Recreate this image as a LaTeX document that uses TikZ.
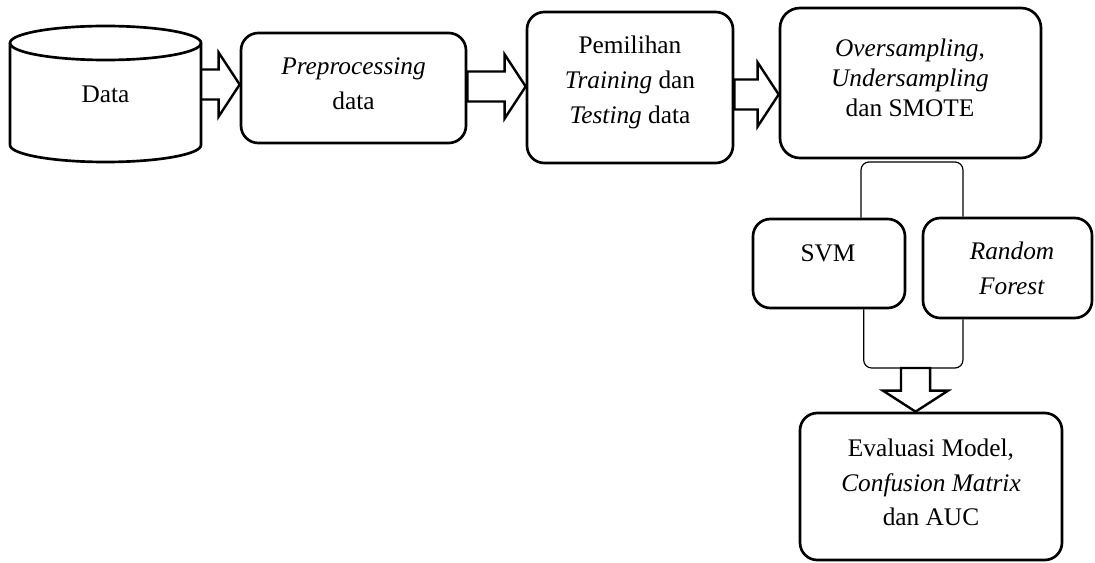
\documentclass[tikz,border=0pt]{standalone}
\usepackage{fontspec}
\setmainfont{Liberation Serif}
\usetikzlibrary{calc}

\tikzset{
  box/.style={draw, line width=2pt, rounded corners=13pt, inner sep=0pt},
  txt/.style={align=center, inner sep=0pt, font=\fontsize{19}{26}\selectfont},
  blockarr/.style={draw, line width=1.8pt, fill=white, line join=miter},
  bracket/.style={line width=0.9pt, rounded corners=6pt}
}
% block arrow pointing right, shaft from #1 to the tip at #2
\newcommand{\harrow}[2]{%
  \draw[blockarr] let \p1=(#1), \p2=(#2) in
    (\x1,\y2+11.25pt) -- (\x2-15.75pt,\y2+11.25pt) -- (\x2-15.75pt,\y2+24pt) -- (\x2,\y2)
    -- (\x2-15.75pt,\y2-24pt) -- (\x2-15.75pt,\y2-11.25pt) -- (\x1,\y2-11.25pt) -- cycle;}
% block arrow pointing down
\newcommand{\varrow}[2]{%
  \draw[blockarr] let \p1=(#1), \p2=(#2) in
    (\x2-10.9pt,\y1) -- (\x2-10.9pt,\y2+15.75pt) -- (\x2-24.4pt,\y2+15.75pt) -- (\x2,\y2)
    -- (\x2+24.4pt,\y2+15.75pt) -- (\x2+10.9pt,\y2+15.75pt) -- (\x2+10.9pt,\y1) -- cycle;}

\begin{document}
\begin{tikzpicture}[x=0.75pt,y=-0.75pt]
\useasboundingbox (0,0) rectangle (1095,563);

% data cylinder
\draw[line width=2pt] (10,43) -- (10,145) arc[start angle=180, end angle=360, x radius=71.625pt, y radius=12.75pt] -- (201,43);
\draw[line width=2pt] (105.5,43) ellipse [x radius=71.625pt, y radius=12.75pt];
\node[txt, minimum width=143.25pt, minimum height=102pt] (data) at (105.5,94) {Data};

% boxes
\node[box, minimum width=168.75pt, minimum height=82.5pt] (prep) at (353.5,88) {};
\node[box, minimum width=154.5pt, minimum height=113.25pt] (pilih) at (630,87.5) {};
\node[box, rounded corners=15pt, minimum width=195.75pt, minimum height=112.5pt] (over) at (910.5,83) {};
\node[box, minimum width=114pt, minimum height=66.75pt] (svm) at (829,263.5) {};
\node[box, minimum width=126.75pt, minimum height=75pt] (rf) at (1007.5,268) {};
\node[box, minimum width=196.5pt, minimum height=110.25pt] (eval) at (931,486.5) {};

% texts
\node[txt] (preptxt) at (353.5,83.5) {\textit{Preprocessing}\\data};
\node[txt] (pilihtxt) at (630,82.5) {Pemilihan\\\textit{Training} dan\\\textit{Testing} data};
\node[txt, font=\fontsize{19}{22.5}\selectfont] (overtxt) at (910,77.5) {\textit{Oversampling},\\\textit{Undersampling}\\dan SMOTE};
\node[txt] (svmtxt) at (828,253) {SVM};
\node[txt] (rftxt) at (1012,268.5) {\textit{Random}\\\textit{Forest}};
\node[txt] (evaltxt) at (931,482.5) {Evaluasi Model,\\\textit{Confusion Matrix}\\dan AUC};

% arrows
\harrow{data.east}{[yshift=2.6pt]prep.west}
\harrow{prep.east}{[yshift=0.75pt]pilih.west}
\harrow{pilih.east}{[yshift=-8.6pt]over.west}

\coordinate (split) at (910,162);
\coordinate (join) at (916,368);
\draw[bracket] ([xshift=24pt]svm.north) |- (split) -| ([xshift=-33.4pt]rf.north);
\draw[bracket] ([xshift=26pt]svm.south) |- (join) -| ([xshift=-33.4pt]rf.south);
\varrow{join}{[xshift=-11.6pt]eval.north}
\end{tikzpicture}
\end{document}
